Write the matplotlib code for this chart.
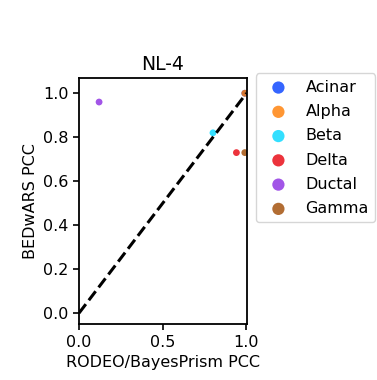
import matplotlib
matplotlib.use('Agg')
import matplotlib.pyplot as plt

# cell types and PCC values
cell_types = ['Acinar', 'Alpha', 'Beta', 'Delta', 'Ductal', 'Gamma']
rodeo_pcc = [0.99, 0.99, 0.80, 0.94, 0.12, 0.99]
bedwars_pcc = [1.0, 1.0, 0.82, 0.73, 0.96, 0.73]
colors = ['#023eff', '#ff7c00', '#00d7ff', '#e8000b', '#8b2be2', '#9f4800']

plt.rcParams['font.size'] = 11.5
plt.rcParams['axes.linewidth'] = 1.3

fig = plt.figure(figsize=(3.77, 3.8), dpi=100)
ax = fig.add_axes([0.2095, 0.147, 0.4456, 0.647])

for name, x, y, c in zip(cell_types, rodeo_pcc, bedwars_pcc, colors):
    ax.scatter(x, y, s=24, color=c, alpha=0.8, edgecolors='none', label=name)

ax.plot([0, 1], [0, 1], color='black', linestyle='--', linewidth=2.2)

ax.set_xlim(0, 1.003)
ax.set_ylim(-0.05, 1.068)
ax.set_xticks([0.0, 0.5, 1.0])
ax.set_yticks([0.0, 0.2, 0.4, 0.6, 0.8, 1.0])
ax.tick_params(width=1.2, length=4, labelsize=11.5)
ax.set_title('NL-4', fontsize=13.5)
ax.set_xlabel('RODEO/BayesPrism PCC')
ax.set_ylabel('BEDwARS PCC')

ax.legend(loc='upper left', bbox_to_anchor=(1.054, 1.02), borderaxespad=0,
          markerscale=1.8, fontsize=11.5, labelspacing=0.58, handletextpad=0.7)

fig.savefig('out.png', dpi=100)
